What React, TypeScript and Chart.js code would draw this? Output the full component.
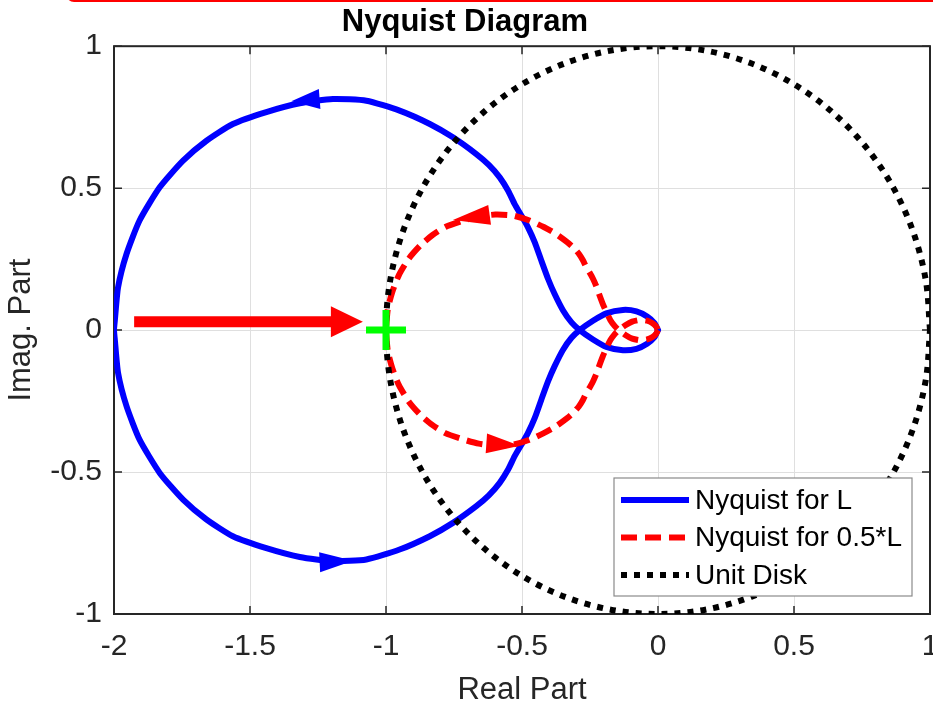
import React, { useEffect, useRef } from 'react';
import { Chart, registerables } from 'chart.js';

Chart.register(...registerables);

const FONT = '"Liberation Sans", Arial, Helvetica, sans-serif';

const chartTitle = 'Nyquist Diagram';
const xAxisTitle = 'Real Part';
const yAxisTitle = 'Imag. Part';
const xTickValues = [-2, -1.5, -1, -0.5, 0, 0.5, 1];
const yTickValues = [-1, -0.5, 0, 0.5, 1];
const seriesLabels = ['Nyquist for L', 'Nyquist for 0.5*L', 'Unit Disk'];

const nyquistLX = [
  0, -0.013, -0.04, -0.079, -0.129, -0.19, -0.239, -0.288,
  -0.318, -0.349, -0.38, -0.404, -0.429, -0.453, -0.478, -0.502, -0.527, -0.551, -0.582, -0.622, -0.668, -0.754, -0.839,
  -0.95, -1.072, -1.195, -1.317, -1.44, -1.563, -1.66, -1.746, -1.832, -1.906, -1.954, -1.985, -1.997, -2,
  -1.997, -1.985, -1.954, -1.906, -1.832, -1.746, -1.66, -1.563, -1.44, -1.317, -1.195, -1.072, -0.95, -0.839,
  -0.754, -0.668, -0.622, -0.582, -0.551, -0.527, -0.502, -0.478, -0.453, -0.429, -0.404, -0.38, -0.349, -0.318, -0.288,
  -0.239, -0.19, -0.129, -0.079, -0.04, -0.013, 0,
];
const nyquistLY = [
  0, -0.025, -0.048, -0.066, -0.071, -0.059, -0.033, 0,
  0.027, 0.069, 0.127, 0.18, 0.245, 0.309, 0.362, 0.403, 0.444, 0.491, 0.538, 0.582, 0.62, 0.679, 0.726,
  0.773, 0.808, 0.814, 0.799, 0.768, 0.726, 0.667, 0.597, 0.503, 0.386, 0.268, 0.151, 0.033, 0,
  -0.033, -0.151, -0.268, -0.386, -0.503, -0.597, -0.667, -0.726, -0.768, -0.799, -0.814, -0.808, -0.773, -0.726,
  -0.679, -0.62, -0.582, -0.538, -0.491, -0.444, -0.403, -0.362, -0.309, -0.245, -0.18, -0.127, -0.069, -0.027, 0,
  0.033, 0.059, 0.071, 0.066, 0.048, 0.025, 0,
];

const nyquistHalfX = [
  0, -0.007, -0.02, -0.04, -0.065, -0.095, -0.12, -0.144,
  -0.159, -0.175, -0.19, -0.202, -0.215, -0.227, -0.239, -0.251, -0.264, -0.276, -0.291, -0.311, -0.334, -0.377, -0.42,
  -0.475, -0.536, -0.598, -0.659, -0.72, -0.782, -0.83, -0.873, -0.916, -0.953, -0.977, -0.993, -0.999, -1,
  -0.999, -0.993, -0.977, -0.953, -0.916, -0.873, -0.83, -0.782, -0.72, -0.659, -0.598, -0.536, -0.475, -0.42,
  -0.377, -0.334, -0.311, -0.291, -0.276, -0.264, -0.251, -0.239, -0.227, -0.215, -0.202, -0.19, -0.175, -0.159, -0.144,
  -0.12, -0.095, -0.065, -0.04, -0.02, -0.007, 0,
];
const nyquistHalfY = [
  0, -0.013, -0.024, -0.033, -0.036, -0.03, -0.017, 0,
  0.014, 0.035, 0.064, 0.09, 0.123, 0.155, 0.181, 0.202, 0.222, 0.246, 0.269, 0.291, 0.31, 0.34, 0.363,
  0.387, 0.404, 0.407, 0.4, 0.384, 0.363, 0.334, 0.299, 0.252, 0.193, 0.134, 0.076, 0.017, 0,
  -0.017, -0.076, -0.134, -0.193, -0.252, -0.299, -0.334, -0.363, -0.384, -0.4, -0.407, -0.404, -0.387, -0.363,
  -0.34, -0.31, -0.291, -0.269, -0.246, -0.222, -0.202, -0.181, -0.155, -0.123, -0.09, -0.064, -0.035, -0.014, 0,
  0.017, 0.03, 0.036, 0.033, 0.024, 0.013, 0,
];

const unitDiskX = [
  1, 0.9848, 0.9397, 0.866, 0.766, 0.6428, 0.5, 0.342, 0.1736, 0,
  -0.1736, -0.342, -0.5, -0.6428, -0.766, -0.866, -0.9397, -0.9848, -1,
  -0.9848, -0.9397, -0.866, -0.766, -0.6428, -0.5, -0.342, -0.1736, 0,
  0.1736, 0.342, 0.5, 0.6428, 0.766, 0.866, 0.9397, 0.9848, 1,
];
const unitDiskY = [
  0, 0.1736, 0.342, 0.5, 0.6428, 0.766, 0.866, 0.9397, 0.9848, 1,
  0.9848, 0.9397, 0.866, 0.766, 0.6428, 0.5, 0.342, 0.1736, 0,
  -0.1736, -0.342, -0.5, -0.6428, -0.766, -0.866, -0.9397, -0.9848, -1,
  -0.9848, -0.9397, -0.866, -0.766, -0.6428, -0.5, -0.342, -0.1736, 0,
];

const criticalX = [-1];
const criticalY = [0];

// arrow heads: [baseX, baseY, tipX, tipY] in data units
const arrowsL = [
  [-1.244, 0.814, -1.348, 0.806],
  [-1.244, -0.818, -1.121, -0.812],
];
const arrowsHalf = [
  [-0.619, 0.406, -0.754, 0.388],
  [-0.631, -0.399, -0.508, -0.407],
];
// big annotation arrow: [tailX, tailY, tipX, tipY]
const bigArrow = [-1.926, 0.029, -1.085, 0.029];

const BLUE = '#0000ff';
const RED = '#ff0000';
const AXIS = '#262626';

function drawHead(ctx: CanvasRenderingContext2D, bx: number, by: number, tx: number, ty: number, half: number) {
  const dx = tx - bx;
  const dy = ty - by;
  const len = Math.hypot(dx, dy) || 1;
  const nx = -dy / len;
  const ny = dx / len;
  ctx.beginPath();
  ctx.moveTo(tx, ty);
  ctx.lineTo(bx + nx * half, by + ny * half);
  ctx.lineTo(bx - nx * half, by - ny * half);
  ctx.closePath();
  ctx.fill();
}

const decorPlugin = {
  id: 'decor',
  beforeDatasetsDraw(chart: any) {
    const { ctx, chartArea: a, scales } = chart;
    const xs = scales.x;
    const ys = scales.y;
    ctx.save();
    ctx.strokeStyle = AXIS;
    ctx.lineWidth = 1.5;
    ctx.beginPath();
    const tl = 8;
    xTickValues.forEach((v) => {
      const px = xs.getPixelForValue(v);
      ctx.moveTo(px, a.bottom);
      ctx.lineTo(px, a.bottom - tl);
      ctx.moveTo(px, a.top);
      ctx.lineTo(px, a.top + tl);
    });
    yTickValues.forEach((v) => {
      const py = ys.getPixelForValue(v);
      ctx.moveTo(a.left, py);
      ctx.lineTo(a.left + tl, py);
      ctx.moveTo(a.right, py);
      ctx.lineTo(a.right - tl, py);
    });
    ctx.stroke();
    ctx.lineWidth = 2;
    ctx.strokeRect(a.left, a.top, a.right - a.left, a.bottom - a.top);
    ctx.restore();
  },
  afterDatasetsDraw(chart: any) {
    const { ctx, scales } = chart;
    const xs = scales.x;
    const ys = scales.y;
    const P = (x: number, y: number) => [xs.getPixelForValue(x), ys.getPixelForValue(y)];
    ctx.save();
    ctx.fillStyle = BLUE;
    arrowsL.forEach(([bx, by, tx, ty]) => {
      const [pbx, pby] = P(bx, by);
      const [ptx, pty] = P(tx, ty);
      drawHead(ctx, pbx, pby, ptx, pty, 10);
    });
    ctx.fillStyle = RED;
    arrowsHalf.forEach(([bx, by, tx, ty]) => {
      const [pbx, pby] = P(bx, by);
      const [ptx, pty] = P(tx, ty);
      drawHead(ctx, pbx, pby, ptx, pty, 10);
    });
    const [sx, sy] = P(bigArrow[0], bigArrow[1]);
    const [ex, ey] = P(bigArrow[2], bigArrow[3]);
    const len = Math.hypot(ex - sx, ey - sy) || 1;
    const ux = (ex - sx) / len;
    const uy = (ey - sy) / len;
    const headLen = 32;
    const bx = ex - ux * headLen;
    const by = ey - uy * headLen;
    ctx.strokeStyle = RED;
    ctx.lineWidth = 11;
    ctx.lineCap = 'butt';
    ctx.beginPath();
    ctx.moveTo(sx, sy);
    ctx.lineTo(bx + ux * 2, by + uy * 2);
    ctx.stroke();
    drawHead(ctx, bx, by, ex, ey, 15.5);
    ctx.restore();
  },
  afterDraw(chart: any) {
    const { ctx, chartArea: a } = chart;
    const items = chart.data.datasets
      .filter((d: any) => d.label)
      .sort((p: any, q: any) => seriesLabels.indexOf(p.label) - seriesLabels.indexOf(q.label));
    const bw = 298;
    const bh = 118;
    const right = a.right - 18;
    const bottom = a.bottom - 18;
    const left = right - bw;
    const top = bottom - bh;
    ctx.save();
    ctx.fillStyle = '#ffffff';
    ctx.fillRect(left, top, bw, bh);
    ctx.strokeStyle = '#8a8a8a';
    ctx.lineWidth = 1.2;
    ctx.strokeRect(left, top, bw, bh);
    ctx.font = `28px ${FONT}`;
    ctx.textBaseline = 'middle';
    ctx.textAlign = 'left';
    items.forEach((d: any, i: number) => {
      const cy = top + 22 + i * 37.5;
      ctx.strokeStyle = d.borderColor;
      ctx.lineWidth = d.borderWidth;
      ctx.lineCap = 'butt';
      ctx.setLineDash(d.borderDash || []);
      ctx.beginPath();
      ctx.moveTo(left + 7, cy);
      ctx.lineTo(left + 75, cy);
      ctx.stroke();
      ctx.setLineDash([]);
      ctx.fillStyle = '#000000';
      ctx.fillText(d.label, left + 81, cy + 1);
    });
    ctx.restore();
  },
};

const toPoints = (xs: number[], ys: number[]) => xs.map((x, i) => ({ x, y: ys[i] }));

export default function App() {
  const canvasRef = useRef<HTMLCanvasElement | null>(null);

  useEffect(() => {
    if (!canvasRef.current) return;
    const chart = new Chart(canvasRef.current, {
      type: 'scatter',
      data: {
        datasets: [
          {
            label: '',
            data: toPoints(criticalX, criticalY),
            pointStyle: 'cross',
            pointRadius: 20,
            borderWidth: 7,
            borderColor: '#00ff00',
            backgroundColor: '#00ff00',
            showLine: false,
            order: 0,
          },
          {
            label: seriesLabels[2],
            data: toPoints(unitDiskX, unitDiskY),
            borderColor: '#000000',
            backgroundColor: '#000000',
            borderWidth: 6,
            borderDash: [6, 7],
            borderCapStyle: 'butt',
            showLine: true,
            pointRadius: 0,
            tension: 0.33,
            order: 1,
          },
          {
            label: seriesLabels[1],
            data: toPoints(nyquistHalfX, nyquistHalfY),
            borderColor: RED,
            backgroundColor: RED,
            borderWidth: 6,
            borderDash: [16, 8],
            borderCapStyle: 'butt',
            showLine: true,
            pointRadius: 0,
            tension: 0.2,
            order: 2,
          },
          {
            label: seriesLabels[0],
            data: toPoints(nyquistLX, nyquistLY),
            borderColor: BLUE,
            backgroundColor: BLUE,
            borderWidth: 6,
            borderJoinStyle: 'round',
            borderCapStyle: 'round',
            showLine: true,
            pointRadius: 0,
            tension: 0.2,
            order: 3,
          },
        ] as any,
      },
      options: {
        animation: false,
        responsive: true,
        maintainAspectRatio: false,
        events: [],
        layout: { autoPadding: false, padding: { top: 0, left: 0, right: 3, bottom: 0 } },
        plugins: {
          legend: { display: false },
          tooltip: { enabled: false },
          title: {
            display: true,
            text: chartTitle,
            color: '#000000',
            font: { family: FONT, size: 31, weight: 'bold' },
            padding: { top: 4, bottom: 5 },
          },
        },
        scales: {
          x: {
            type: 'linear',
            min: -2,
            max: 1,
            afterBuildTicks: (s: any) => {
              s.ticks = xTickValues.map((v) => ({ value: v }));
            },
            afterFit: (s: any) => {
              s.height = 90;
              s.paddingLeft = 0;
              s.paddingRight = 0;
            },
            ticks: {
              color: AXIS,
              font: { family: FONT, size: 30 },
              padding: 15,
              maxRotation: 0,
              autoSkip: false,
              callback: (v: any) => String(v),
            },
            grid: { color: '#dfdfdf', lineWidth: 1, drawTicks: false },
            border: { display: false },
            title: {
              display: true,
              text: xAxisTitle,
              color: AXIS,
              font: { family: FONT, size: 31, lineHeight: 0.9 },
              padding: { top: 0, bottom: 0 },
            },
          },
          y: {
            type: 'linear',
            min: -1,
            max: 1,
            afterBuildTicks: (s: any) => {
              s.ticks = yTickValues.map((v) => ({ value: v }));
            },
            afterFit: (s: any) => {
              s.width = 114;
              s.paddingTop = 0;
              s.paddingBottom = 0;
            },
            ticks: {
              color: AXIS,
              font: { family: FONT, size: 30 },
              padding: 12,
              autoSkip: false,
              callback: (v: any) => String(v),
            },
            grid: { color: '#dfdfdf', lineWidth: 1, drawTicks: false },
            border: { display: false },
            title: {
              display: true,
              text: yAxisTitle,
              color: AXIS,
              font: { family: FONT, size: 31 },
              padding: { top: 3, bottom: 0 },
            },
          },
        },
      } as any,
      plugins: [decorPlugin],
    });
    return () => chart.destroy();
  }, []);

  return (
    <div
      style={{
        position: 'fixed',
        left: 0,
        top: 0,
        width: 933,
        height: 704,
        overflow: 'hidden',
        background: '#ffffff',
      }}
    >
      <div
        style={{
          position: 'absolute',
          left: 66,
          top: -38,
          width: 960,
          height: 40,
          boxSizing: 'border-box',
          border: '3px solid #ff0000',
          borderRadius: 8,
        }}
      />
      <div style={{ position: 'absolute', left: 0, top: 0, width: 933, height: 704 }}>
        <canvas ref={canvasRef} />
      </div>
    </div>
  );
}
